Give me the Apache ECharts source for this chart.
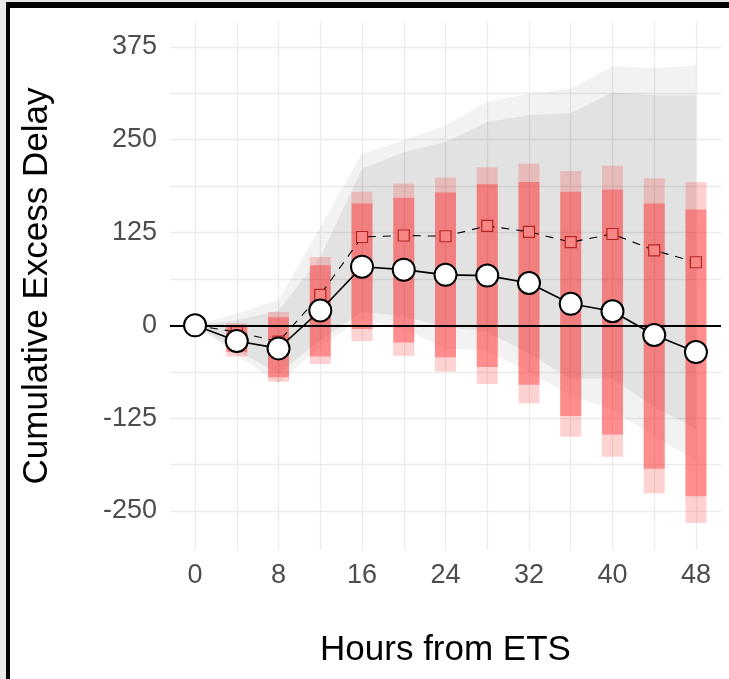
<!DOCTYPE html>
<html>
<head>
<meta charset="utf-8">
<script src="https://cdn.jsdelivr.net/npm/echarts@6/dist/echarts.min.js"></script>
<style>
  html, body { margin: 0; padding: 0; background: #e9e8e6; }
  #frame { position: absolute; left: 6px; top: 2px; width: 740px; height: 700px;
           border-left: 4px solid #000; border-top: 6px solid #000; background: #fff; }
  #chart { position: absolute; left: 0; top: 0; width: 729px; height: 679px; }
</style>
</head>
<body>
<div id="frame"></div>
<div id="chart"></div>
<script>
// ---- data ----
const hours = [0, 4, 8, 12, 16, 20, 24, 28, 32, 36, 40, 44, 48];
const observed = [0, -21, -31, 20, 79, 75, 68, 67, 57, 29, 19, -13, -36];
const squares = [0, -9, -22, 41, 119, 121, 120, 134, 126, 112, 123, 101, 85];

const barOuterLo = [null, -42, -76, -52, -21, -41, -62, -79, -105, -150, -177, -226, -266];
const barOuterHi = [null, 3, 18, 92, 180, 191, 199, 213, 218, 208, 215, 198, 193];
const barInnerLo = [null, -36, -70, -42, -5, -23, -43, -56, -80, -122, -147, -193, -230];
const barInnerHi = [null, 0, 11, 81, 164, 172, 179, 190, 193, 180, 183, 164, 156];

const bandLightLo = [0, -40, -78, -28, 8, -5, -31, -34, -63, -94, -114, -150, -182];
const bandLightHi = [0, 16, 34, 132, 231, 249, 269, 301, 312, 319, 349, 347, 350];
const bandDarkLo = [0, -34, -65, -20, 18, 12, -2, -9, -38, -72, -72, -110, -139];
const bandDarkHi = [0, 7, 20, 92, 211, 233, 247, 274, 283, 286, 314, 310, 310];

const xTickValues = [0, 4, 8, 12, 16, 20, 24, 28, 32, 36, 40, 44, 48];
const xLabelValues = [0, 8, 16, 24, 32, 40, 48];
const yTickValues = [-250, -187.5, -125, -62.5, 0, 62.5, 125, 187.5, 250, 312.5, 375];
const yLabelValues = [-250, -125, 0, 125, 250, 375];

const FONT = '"Liberation Sans", Arial, Helvetica, sans-serif';
const pairs = (arr) => hours.map((h, i) => [h, arr[i]]);

const chart = echarts.init(document.getElementById('chart'), null, { renderer: 'canvas' });

// ribbon: one polygon built from all rows (x, lo, hi) through the axes' scales
function ribbon(fill) {
  return function (params, api) {
    if (params.dataIndexInside !== 0) return null;
    const n = params.dataInsideLength;
    const top = [], bottom = [];
    for (let j = 0; j < n; j++) {
      const x = api.value(0, j);
      top.push(api.coord([x, api.value(2, j)]));
      bottom.push(api.coord([x, api.value(1, j)]));
    }
    return { type: 'polygon', shape: { points: top.concat(bottom.reverse()) }, style: { fill: fill } };
  };
}

function barItem(params, api) {
  const x = api.value(0);
  const oLo = api.value(1), oHi = api.value(2), iLo = api.value(3), iHi = api.value(4);
  if (oLo == null || isNaN(oLo)) return null;
  const w = 21;
  const a = api.coord([x, oHi]), b = api.coord([x, oLo]);
  const c = api.coord([x, iHi]), d = api.coord([x, iLo]);
  return {
    type: 'group',
    children: [
      { type: 'rect', shape: { x: a[0] - w / 2, y: a[1], width: w, height: b[1] - a[1] },
        style: { fill: 'rgba(255,30,30,0.20)' } },
      { type: 'rect', shape: { x: c[0] - w / 2, y: c[1], width: w, height: d[1] - c[1] },
        style: { fill: 'rgba(255,30,30,0.38)' } }
    ]
  };
}

const option = {
  animation: false,
  backgroundColor: 'transparent',
  grid: { left: 170, right: 8, top: 22, bottom: 129, containLabel: false, outerBoundsMode: 'none' },
  xAxis: {
    type: 'value', min: -2.4, max: 50.4,
    name: 'Hours from ETS', nameLocation: 'middle', nameGap: 83,
    nameTextStyle: { fontFamily: FONT, fontSize: 35, color: '#000' },
    axisLine: { show: false },
    axisTick: { show: false, customValues: xTickValues },
    axisLabel: { customValues: xLabelValues, fontFamily: FONT, fontSize: 27, color: '#4d4d4d', margin: 12 },
    splitLine: { show: true, lineStyle: { color: '#ebebeb', width: 1.3 } }
  },
  yAxis: {
    type: 'value', min: -302.5, max: 408.5,
    name: 'Cumulative Excess Delay', nameLocation: 'middle', nameGap: 115, nameRotate: 90,
    nameTextStyle: { fontFamily: FONT, fontSize: 35, color: '#000' },
    axisLine: { show: false },
    axisTick: { show: false, customValues: yTickValues },
    axisLabel: { customValues: yLabelValues, fontFamily: FONT, fontSize: 27, color: '#4d4d4d', margin: 13 },
    splitLine: { show: true, lineStyle: { color: '#ebebeb', width: 1.3 } }
  },
  series: [
    { type: 'custom', renderItem: ribbon('rgba(0,0,0,0.05)'), z: 1, silent: true,
      data: hours.map((h, i) => [h, bandLightLo[i], bandLightHi[i]]), encode: { x: 0, y: [1, 2] } },
    { type: 'custom', renderItem: ribbon('rgba(0,0,0,0.065)'), z: 1, silent: true,
      data: hours.map((h, i) => [h, bandDarkLo[i], bandDarkHi[i]]), encode: { x: 0, y: [1, 2] } },
    { type: 'custom', renderItem: barItem, z: 2,
      data: hours.map((h, i) => [h, barOuterLo[i], barOuterHi[i], barInnerLo[i], barInnerHi[i]]),
      encode: { x: 0, y: [1, 2, 3, 4] } },
    { type: 'line', data: [], z: 3, silent: true,
      markLine: { silent: true, symbol: ['none', 'none'], label: { show: false },
        lineStyle: { color: '#000', width: 2, type: 'solid' }, data: [{ yAxis: 0 }] } },
    { type: 'line', data: pairs(squares), z: 4,
      symbol: 'rect', symbolSize: 11, showAllSymbol: true,
      itemStyle: { color: '#f98686', borderColor: '#b3261e', borderWidth: 1.2 },
      lineStyle: { color: '#000', width: 1.1, type: [8, 7] } },
    { type: 'line', data: pairs(observed), z: 5,
      symbol: 'circle', symbolSize: 22, showAllSymbol: true,
      itemStyle: { color: '#fff', borderColor: '#000', borderWidth: 2 },
      lineStyle: { color: '#000', width: 1.6 } }
  ]
};
chart.setOption(option);
</script>
</body>
</html>
